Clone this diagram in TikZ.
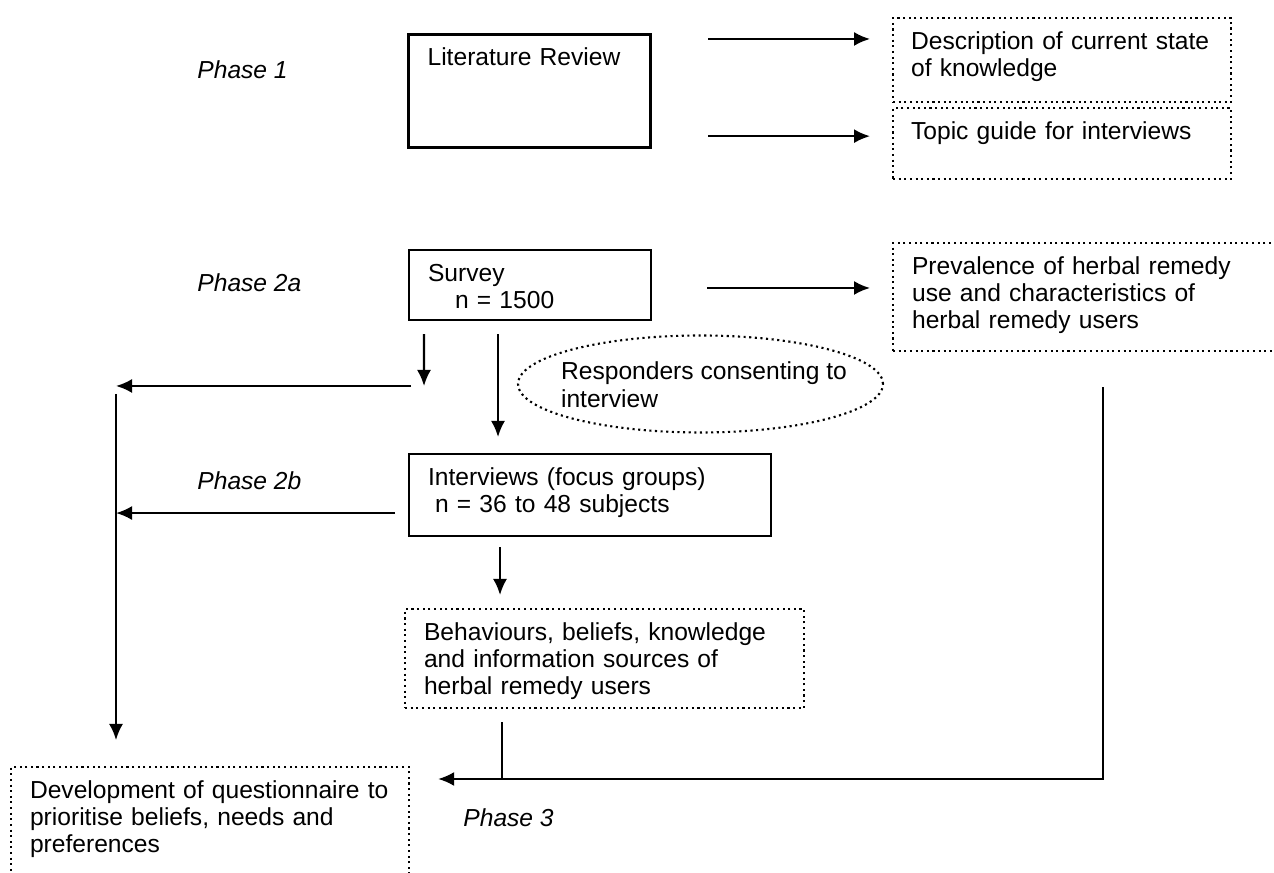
\documentclass[tikz,border=0pt]{standalone}
\usepackage{fontspec}
\setmainfont{Liberation Sans}
\usetikzlibrary{arrows.meta,shapes.geometric}

\tikzset{
    box/.style={draw, line width=0.6pt, anchor=north west, align=left, inner xsep=0.19cm, inner ysep=0.1cm, text height=0.21cm},
    outbox/.style={box, densely dotted},
    phase/.style={anchor=west, font=\fontsize{7}{7.8}\selectfont\itshape},
    arr/.style={line width=0.6pt, -{Latex[length=0.16cm,width=0.14cm]}},
}

\begin{document}
\begin{tikzpicture}[font=\fontsize{7}{7.8}\selectfont]
    \useasboundingbox (0,0) rectangle (12.74,8.73);

    \node[phase] (p1) at (1.85,8.03) {Phase 1};
    \node[phase] (p2a) at (1.85,5.90) {Phase 2a};
    \node[phase] (p2b) at (1.85,3.92) {Phase 2b};
    \node[phase] (p3) at (4.51,0.55) {Phase 3};

    \node[box, line width=0.9pt, text width=2.04cm, text depth=0.72cm] (lit) at (4.07,8.40) {Literature Review};
    \node[outbox, inner xsep=0.18cm, text width=3.02cm, text depth=0.43cm] (desc) at (8.92,8.56) {Description of current state\\of knowledge};
    \node[outbox, inner xsep=0.18cm, text width=3.02cm, text depth=0.30cm] (topic) at (8.92,7.66) {Topic guide for interviews};

    \node[box, text width=2.04cm, text depth=0.29cm] (survey) at (4.08,6.24) {Survey\\\hspace*{0.27cm}n = 1500};
    \node[outbox, text width=3.5cm, text depth=0.67cm] (prev) at (8.92,6.31) {Prevalence of herbal remedy\\use and characteristics of\\herbal remedy users};
    \node[ellipse, draw, densely dotted, line width=0.6pt, align=left, minimum width=3.65cm, minimum height=0.97cm, inner xsep=-0.5cm, inner ysep=-0.1cm, text height=0.47cm] (resp) at (7.005,4.89) {\hspace*{0.07cm}Responders consenting to\\\hspace*{0.07cm}interview};

    \node[box, text width=3.24cm, text depth=0.41cm] (iv) at (4.08,4.20) {Interviews (focus groups)\\\hspace*{0.07cm}n = 36 to 48 subjects};
    \node[outbox, text width=3.61cm, text depth=0.58cm] (beh) at (4.04,2.65) {Behaviours, beliefs, knowledge\\and information sources of\\herbal remedy users};
    \node[outbox, text width=3.6cm, text depth=0.79cm] (dev) at (0.10,1.07) {Development of questionnaire to\\prioritise beliefs, needs and\\preferences};

    \coordinate (fork) at (4.24,4.87);
    \coordinate (rail) at (1.16,4.87);
    \coordinate (join) at ([yshift=-0.13cm]dev.north east);

    \draw[arr, shorten <=0.56cm, shorten >=0.22cm] ([yshift=-0.06cm]lit.north east) -- ([yshift=-0.06cm]lit.north east -| desc.west);
    \draw[arr, shorten <=0.56cm, shorten >=0.22cm] ([yshift=0.13cm]lit.south east) -- ([yshift=0.13cm]lit.south east -| topic.west);
    \draw[arr, shorten <=0.55cm, shorten >=0.22cm] ([yshift=-0.39cm]survey.north east) -- ([yshift=-0.39cm]survey.north east -| prev.west);

    \draw[arr, shorten <=0.13cm] ([xshift=0.16cm]survey.south west) -- (fork);
    \draw[arr] ([xshift=-0.13cm]fork) -- (rail);
    \draw[arr, shorten <=0.08cm, shorten >=0.26cm] (rail) -- (rail |- dev.north);
    \draw[arr, shorten <=0.13cm, shorten >=0.16cm] ([xshift=0.90cm]survey.south west) -- ([xshift=0.90cm]survey.south west |- iv.north);
    \draw[arr, shorten <=0.13cm] ([yshift=-0.18cm]iv.west) -- ([yshift=-0.18cm]iv.west -| rail);
    \draw[arr, shorten <=0.10cm, shorten >=0.13cm] ([xshift=0.92cm]iv.south west) -- ([xshift=0.92cm]iv.south west |- beh.north);
    \draw[line width=0.6pt, shorten <=0.13cm] ([xshift=0.98cm]beh.south west) -- ([xshift=0.98cm]beh.south west |- join);
    \draw[arr, shorten <=0.35cm, shorten >=0.28cm] ([xshift=2.11cm]prev.south west) |- (join);
\end{tikzpicture}
\end{document}
